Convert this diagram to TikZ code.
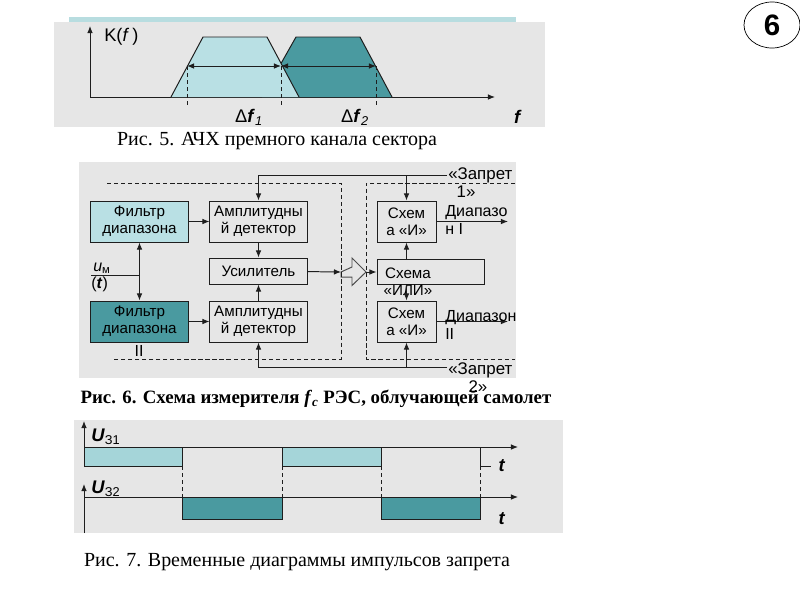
\documentclass[tikz,border=0pt]{standalone}
\usepackage{fontspec}
\setmainfont{Liberation Sans}
\newfontfamily\capfont{Liberation Serif}
\usepackage{xcolor}
\usepackage{tikz}
\usetikzlibrary{positioning, arrows.meta, calc, shapes.geometric}
\definecolor{bandtop}{HTML}{B8DDE0}
\definecolor{panelbg}{HTML}{E6E6E6}
\definecolor{bandlight}{HTML}{B9E0E4}
\definecolor{banddark}{HTML}{4A9AA0}
\definecolor{pulselight}{HTML}{A5D5D9}
\definecolor{edge}{HTML}{1E1E1E}
\newcommand{\blkfont}{\fontsize{10.8}{12.3}\selectfont}
\newcommand{\lblfont}{\fontsize{11.4}{12.3}\selectfont}
\newcommand{\zapfont}{\fontsize{12}{12.8}\selectfont}
\newcommand{\axfont}{\fontsize{13}{14}\selectfont}
\newcommand{\capsize}{\fontsize{14.2}{16}\selectfont}
\tikzset{
  panel/.style={fill=panelbg, draw=none},
  block/.style={
    draw=edge, line width=0.7pt, fill=panelbg,
    minimum width=2.425cm, minimum height=1.025cm,
    align=center, font=\blkfont, inner sep=1pt
  },
  flt light/.style={block, fill=bandlight},
  flt dark/.style={block, fill=banddark},
  andbox/.style={block, minimum width=1.475cm},
  wire/.style={-{Latex[length=5pt,width=4pt]}, line width=0.7pt, color=edge},
  both wire/.style={{Latex[length=5pt,width=4pt]}-{Latex[length=5pt,width=4pt]}, line width=0.7pt, color=edge},
  plain wire/.style={line width=0.7pt, color=edge},
  guide/.style={dashed, dash pattern=on 3pt off 2pt, line width=0.7pt, color=edge},
  lbl/.style={font=\lblfont, inner sep=0pt, align=left},
  axlbl/.style={font=\axfont, inner sep=0pt},
  caption/.style={font=\capfont\capsize, inner sep=0pt}
}

\begin{document}
\begin{tikzpicture}[x=0.025cm, y=-0.025cm]
  \useasboundingbox (0,0) rectangle (800,600);
  \node[ellipse, draw, line width=0.5pt, minimum width=1.4cm, minimum height=1.15cm, inner sep=0pt,
        font=\fontsize{21}{22}\selectfont\bfseries] (pagenum) at (772,25) {6};

  \fill[bandtop] (69,17) rectangle (516,22);
  \fill[panel] (54,22) rectangle (545,127);
  \fill[panel] (79,162) rectangle (516,378);
  \fill[panel] (74,420) rectangle (563,533);

  \coordinate (o1) at (90,97);
  \draw[wire] (o1) -- (90,26);
  \draw[wire] (o1) -- (495,97);
  \filldraw[fill=banddark, draw=edge, line width=0.7pt] (262,97) -- (296,37) -- (360,37) -- (392,97);
  \filldraw[fill=bandlight, draw=edge, line width=0.7pt] (171,97) -- (203,37) -- (267,37) -- (299,97);
  \coordinate (b1) at (187,66);
  \coordinate (b2) at (281,66);
  \coordinate (b3) at (376,66);
  \draw[both wire] (b1) -- (b2);
  \draw[both wire] (b2) -- (b3);
  \foreach \p in {b1,b2,b3}
    \draw[guide] (\p) -- ++(0,41);
  \node[axlbl, anchor=west] (kf) at (104,37) {K(\textit{f}\,)};
  \node[axlbl] (df1) at (249,117) {Δ\textbf{\textit{f}}\textsubscript{\textit{1}}};
  \node[axlbl] (df2) at (355,117) {Δ\textbf{\textit{f}}\textsubscript{\textit{2}}};
  \node[axlbl] (fax) at (518,117) {\textbf{\textit{f}}};
  \node[caption] (cap5) at (277,141) {Рис. 5. АЧХ премного канала сектора};

  \node[flt light] (f1) at (139.5,221.5) {Фильтр\\диапазона};
  \node[flt dark] (f2) at (139.5,321.5) {Фильтр\\диапазона};
  \node[block] (ad1) at (258.5,221.5) {Амплитудны\\й детектор};
  \node[block] (ad2) at (258.5,321.5) {Амплитудны\\й детектор};
  \node[block, minimum height=0.65cm] (us) at (258.5,271) {Усилитель};
  \node[andbox] (and1) at (406.5,221.5) {Схем\\а «И»};
  \node[andbox] (and2) at (406.5,321.5) {Схем\\а «И»};
  \node[block, minimum width=2.675cm, minimum height=0.625cm] (ili) at (430.5,271.5) {};
  \node[lbl, font=\blkfont, align=center] (ilitext) at (408,282) {Схема\\«ИЛИ»};
  \node[lbl] (f2num) at (139,351) {II};

  \draw[wire] (f1) -- (ad1);
  \draw[wire] (f2) -- (ad2);
  \draw[wire] (ad1) -- (us);
  \draw[wire] (ad2) -- (us);
  \draw[both wire] (f1) -- (f2);
  \coordinate (uin) at (91,275);
  \draw[plain wire] (uin) -- (uin -| f1.south);
  \node[lbl, anchor=south west] (um) at (93,274) {\textit{u}\textsubscript{м}};
  \node[lbl, anchor=north west] (umt) at (91,277) {(\textbf{\textit{t}})};

  \coordinate (fat) at (341,272);
  \coordinate (fattip) at (366,272);
  \draw[line width=0.7pt, draw=black!70] (fat) -- ++(11,-5) -- ++(0,-9) -- (fattip) -- ++(-14,13.5) -- ++(0,-8.5) -- ++(-11,0) -- cycle;
  \draw[wire] (us) -- (fat);
  \draw[wire] (fattip) -- (ili.west |- fattip);
  \draw[wire] (ili.north -| and1) -- (and1);
  \draw[wire] (ili.south -| and2) -- (and2);

  \draw[guide] (107,183) -- (341,183) -- (341,359) -- (113,359);
  \draw[guide] (515,183) -- (366,183) -- (366,359) -- (515,359);

  \coordinate (zp1) at (447,175);
  \coordinate (zp2) at (447,367);
  \draw[wire] (zp1) -| (ad1);
  \draw[wire] (and1 |- zp1) -- (and1);
  \draw[wire] (zp2) -| (ad2);
  \draw[wire] (and2 |- zp2) -- (and2);
  \node[lbl, font=\zapfont, anchor=north west] (zap1) at (448,167) {«Запрет\\\hspace*{0.5em}1»};
  \node[lbl, font=\zapfont, anchor=north west] (zap2) at (448,362) {«Запрет\\\hspace*{1.2em}2»};

  \coordinate (out1) at (508,221.5);
  \coordinate (out2) at (508,321.5);
  \draw[wire] (and1) -- (out1);
  \draw[wire] (and2) -- (out2);
  \node[lbl, anchor=west] (rng1) at (445,220) {Диапазо\\н I};
  \node[lbl, anchor=west] (rng2) at (445,325) {Диапазон\\II};

  \node[caption, font=\capfont\fontsize{13.4}{16}\selectfont\bfseries] (cap6) at (316,399)
    {Рис. 6. Схема измерителя \textit{f}\textsubscript{\textit{c}} РЭС, облучающей самолет};

  \fill[pulselight, draw=edge, line width=0.7pt] (84,447) rectangle (182,466);
  \fill[pulselight, draw=edge, line width=0.7pt] (282,447) rectangle (381,466);
  \fill[banddark, draw=edge, line width=0.7pt] (182,497) rectangle (282,519);
  \fill[banddark, draw=edge, line width=0.7pt] (381,497) rectangle (480,519);
  \draw[plain wire] (480,447) -- (480,466) -- (491,466);
  \foreach \x in {182,282,381,480}
    \draw[guide] (\x,466) -- (\x,497);
  \coordinate (o2) at (84,447);
  \coordinate (o3) at (84,497);
  \draw[wire] (84,467) -- (84,421);
  \draw[wire] (o2) -- (518,447);
  \draw[wire] (84,533) -- (84,484);
  \draw[wire] (o3) -- (518,497);
  \node[axlbl, anchor=west] (u31) at (91,437) {\textbf{\textit{U}}\textsubscript{З1}};
  \node[axlbl, anchor=west] (u32) at (91,489) {\textbf{\textit{U}}\textsubscript{З2}};
  \node[axlbl] (t1) at (502,466) {\textbf{\textit{t}}};
  \node[axlbl] (t2) at (502,519) {\textbf{\textit{t}}};
  \node[caption] (cap7) at (297,562) {Рис. 7. Временные диаграммы импульсов запрета};
\end{tikzpicture}
\end{document}
